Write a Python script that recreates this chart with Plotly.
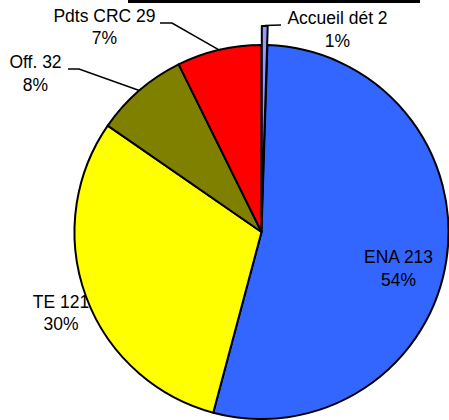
import math
import plotly.graph_objects as go

# ---- data ----
categories = ["Accueil dét", "ENA", "TE", "Off.", "Pdts CRC"]
values = [2, 213, 121, 32, 29]
percents = ["1%", "54%", "30%", "8%", "7%"]
colors = ["#9999FF", "#3366FF", "#FFFF00", "#808000", "#FF0000"]

W, H = 449, 420
CX, CY, R = 261.5, 232.0, 187.0   # pie centre / radius in px (y down)
PULL = 19.0                        # px the first slice is pulled out
FONT = dict(family="Liberation Sans, Arial, sans-serif", size=17.5, color="black")

total = sum(values)
cum = [sum(values[:i]) for i in range(len(values))]
mid_angle = [360.0 * (cum[i] + values[i] / 2) / total for i in range(len(values))]


def arc_point(i, pull=0.0):
    a = math.radians(mid_angle[i])
    return (CX + (R + pull) * math.sin(a), CY - (R + pull) * math.cos(a))


def domain(cx, cy):
    return dict(x=[(cx - R) / W, (cx + R) / W], y=[(H - cy - R) / H, (H - cy + R) / H])


fig = go.Figure()

# main pie (pulled slice left transparent)
main_colors = ["rgba(0,0,0,0)"] + colors[1:]
main_lines = ["rgba(0,0,0,0)"] + ["black"] * 4
fig.add_trace(go.Pie(
    labels=categories, values=values, sort=False, direction="clockwise", rotation=0,
    marker=dict(colors=main_colors, line=dict(color=main_lines, width=2)),
    textinfo="none", hoverinfo="label+value+percent", domain=domain(CX, CY),
    showlegend=False,
))

# pulled slice drawn as a separate, shifted pie
a0 = math.radians(mid_angle[0])
pcx, pcy = CX + PULL * math.sin(a0), CY - PULL * math.cos(a0)
pull_colors = [colors[0]] + ["rgba(0,0,0,0)"] * 4
pull_lines = ["black"] + ["rgba(0,0,0,0)"] * 4
fig.add_trace(go.Pie(
    labels=categories, values=values, sort=False, direction="clockwise", rotation=0,
    marker=dict(colors=pull_colors, line=dict(color=pull_lines, width=2)),
    textinfo="none", hoverinfo="skip", domain=domain(pcx, pcy),
    showlegend=False,
))

# label positions (px, y down) and leader elbows
label_pos = {
    0: (337.5, 31.0),
    2: (61.0, 314.5),
    3: (35.5, 75.0),
    4: (104.5, 28.5),
}
inside_pos = {1: (398.0, 268.0)}
leaders = {
    4: [(160, 23), (172, 23)],
    3: [(68, 69), (79, 69)],
    0: [(281, 25)],
}

for i, pts in leaders.items():
    if i == 0:
        p = arc_point(0, PULL)
        xs = [p[0]] + [q[0] for q in pts]
        ys = [p[1] - 0.5] + [q[1] for q in pts]
    else:
        p = arc_point(i)
        xs = [q[0] for q in pts] + [p[0]]
        ys = [q[1] for q in pts] + [p[1]]
    fig.add_trace(go.Scatter(x=xs, y=ys, mode="lines", line=dict(color="black", width=1.5),
                             hoverinfo="skip", showlegend=False))

# outside labels (drawn beneath the pie, as in the original)
for i, (x, y) in label_pos.items():
    fig.add_trace(go.Scatter(
        x=[x], y=[y], mode="text",
        text=[f"{categories[i]} {values[i]}<br>{percents[i]}"],
        textposition="middle center", textfont=FONT,
        hoverinfo="skip", showlegend=False,
    ))

# inside label (above the pie)
annotations = []
for i, (x, y) in inside_pos.items():
    annotations.append(dict(
        x=x, y=y, xref="x", yref="y", showarrow=False,
        text=f"{categories[i]} {values[i]}<br>{percents[i]}",
        font=FONT, align="center", xanchor="center", yanchor="middle",
    ))

fig.update_layout(
    width=W, height=H,
    margin=dict(l=0, r=0, t=0, b=0),
    paper_bgcolor="white", plot_bgcolor="rgba(0,0,0,0)",
    xaxis=dict(range=[0, W], visible=False, fixedrange=True),
    yaxis=dict(range=[H, 0], visible=False, fixedrange=True),
    annotations=annotations,
    shapes=[dict(type="rect", xref="paper", yref="paper",
                 x0=128 / W, x1=420 / W, y0=1 - 3 / H, y1=1.0,
                 fillcolor="black", line=dict(width=0), layer="above")],
)

fig.write_html("out.html", config={"displayModeBar": False},
               post_script="document.body.style.margin='0';")
